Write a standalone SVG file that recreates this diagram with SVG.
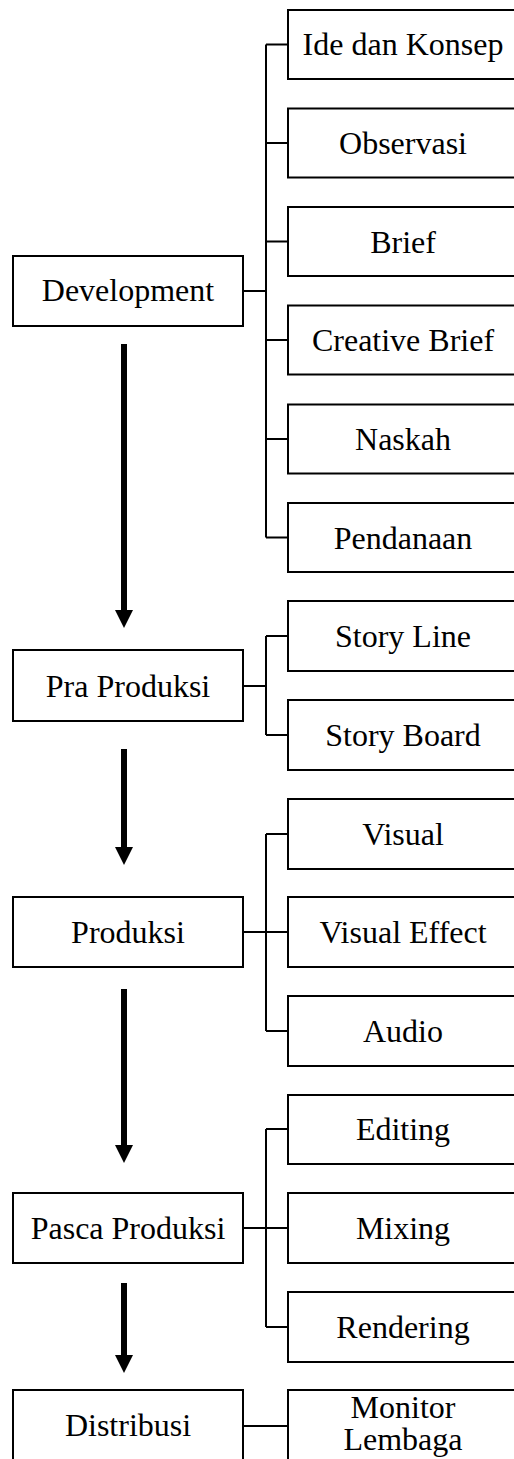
<svg xmlns="http://www.w3.org/2000/svg" width="514" height="1459" viewBox="0 0 514 1459">
<style>
rect{fill:#fff;stroke:#000;stroke-width:2}
text{font-family:"Liberation Serif","Times New Roman",serif;font-size:32px;fill:#000;text-anchor:middle}
.c{fill:none;stroke:#000;stroke-width:2}
.a{fill:none;stroke:#000;stroke-width:6}
</style>
<defs>
<marker id="ah" markerUnits="userSpaceOnUse" viewBox="0 0 18 18" markerWidth="18" markerHeight="18" refX="0" refY="9" orient="auto">
<path d="M0,0 L18,9 L0,18 Z" fill="#000"/>
</marker>
</defs>
<rect width="514" height="1459" style="fill:#fff;stroke:none"/>
<g id="connectors">
<path class="c" d="M243,291 H266 M266,44.5 V537.5 M266,44.5 H288 M266,143 H288 M266,241.5 H288 M266,340 H288 M266,439 H288 M266,537.5 H288"/>
<path class="c" d="M243,686 H266 M266,636 V735 M266,636 H288 M266,735 H288"/>
<path class="c" d="M243,932 H288 M266,834 V1031 M266,834 H288 M266,1031 H288"/>
<path class="c" d="M243,1228 H288 M266,1129 V1327 M266,1129 H288 M266,1327 H288"/>
<path class="c" d="M243,1426 H288"/>
<path class="a" d="M124,344 V610" marker-end="url(#ah)"/>
<path class="a" d="M124,749 V847" marker-end="url(#ah)"/>
<path class="a" d="M124,989 V1145" marker-end="url(#ah)"/>
<path class="a" d="M124,1283 V1355" marker-end="url(#ah)"/>
</g>
<g id="development"><rect x="13" y="256" width="230" height="70"/><text x="128" y="301">Development</text></g>
<g id="ide"><rect x="288" y="10" width="231" height="69"/><text x="403" y="55">Ide dan Konsep</text></g>
<g id="observasi"><rect x="288" y="108.5" width="231" height="69"/><text x="403" y="154">Observasi</text></g>
<g id="brief"><rect x="288" y="207" width="231" height="69"/><text x="403" y="252.5">Brief</text></g>
<g id="creative-brief"><rect x="288" y="305.5" width="231" height="69"/><text x="403" y="351">Creative Brief</text></g>
<g id="naskah"><rect x="288" y="404.5" width="231" height="69"/><text x="403" y="450">Naskah</text></g>
<g id="pendanaan"><rect x="288" y="503" width="231" height="69"/><text x="403" y="548.5">Pendanaan</text></g>
<g id="pra-produksi"><rect x="13" y="650" width="230" height="71"/><text x="128" y="696.5">Pra Produksi</text></g>
<g id="story-line"><rect x="288" y="601" width="231" height="70"/><text x="403" y="647">Story Line</text></g>
<g id="story-board"><rect x="288" y="700" width="231" height="70"/><text x="403" y="746">Story Board</text></g>
<g id="produksi"><rect x="13" y="897" width="230" height="70"/><text x="128" y="943">Produksi</text></g>
<g id="visual"><rect x="288" y="799" width="231" height="70"/><text x="403" y="845">Visual</text></g>
<g id="visual-effect"><rect x="288" y="897" width="231" height="70"/><text x="403" y="943">Visual Effect</text></g>
<g id="audio"><rect x="288" y="996" width="231" height="70"/><text x="403" y="1042">Audio</text></g>
<g id="pasca-produksi"><rect x="13" y="1193" width="230" height="70"/><text x="128" y="1239">Pasca Produksi</text></g>
<g id="editing"><rect x="288" y="1095" width="231" height="69"/><text x="403" y="1140">Editing</text></g>
<g id="mixing"><rect x="288" y="1193" width="231" height="70"/><text x="403" y="1239">Mixing</text></g>
<g id="rendering"><rect x="288" y="1292" width="231" height="70"/><text x="403" y="1338">Rendering</text></g>
<g id="distribusi"><rect x="13" y="1390" width="230" height="70"/><text x="128" y="1436">Distribusi</text></g>
<g id="monitor"><rect x="288" y="1390" width="231" height="70"/><text x="403" y="1418">Monitor</text><text x="403" y="1450">Lembaga</text></g>
</svg>
